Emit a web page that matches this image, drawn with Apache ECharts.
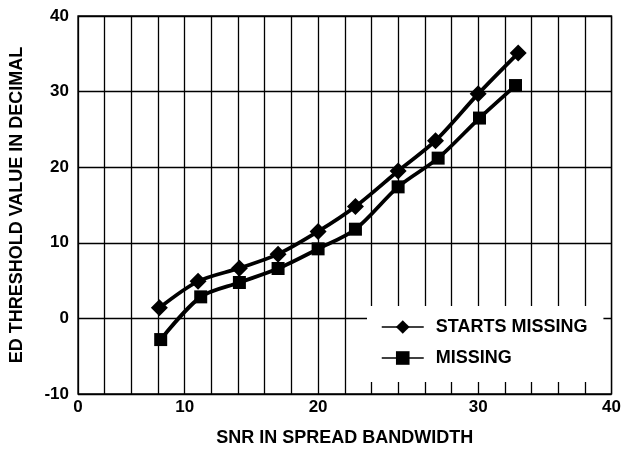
<!DOCTYPE html>
<html>
<head>
<meta charset="utf-8">
<script src="https://cdn.jsdelivr.net/npm/echarts@6/dist/echarts.min.js"></script>
<style>
html,body{margin:0;padding:0;background:#fff;}
#chart{width:624px;height:452px;}
</style>
</head>
<body>
<div id="chart"></div>
<script>
// x positions are in grid-cell units (the axis has 20 equal cells, labelled irregularly)
var xTickLabels = ['0','','','','10','','','','','20','','','','','','30','','','','','40'];
var yTicks = [-10, 0, 10, 20, 30, 40];
var startsMissingX = [3.05, 4.5, 6.05, 7.5, 9.0, 10.4, 12.0, 13.4, 15.0, 16.5];
var startsMissingY = [1.4, 4.9, 6.65, 8.5, 11.5, 14.8, 19.5, 23.5, 29.7, 35.1];
var missingX = [3.1, 4.6, 6.05, 7.5, 9.0, 10.4, 12.0, 13.5, 15.05, 16.4];
var missingY = [-2.8, 2.85, 4.75, 6.6, 9.2, 11.8, 17.4, 21.2, 26.5, 30.8];

function pairs(xs, ys){ return xs.map(function(x,i){ return [x, ys[i]]; }); }

var FONT = '"Liberation Sans", Arial, Helvetica, sans-serif';
var chart = echarts.init(document.getElementById('chart'));
chart.setOption({
  animation: false,
  backgroundColor: '#fff',
  textStyle: {fontFamily: FONT},
  grid: {left: 76, right: 10, top: 16, bottom: 57, show: true, borderColor: '#000', borderWidth: 1.3, containLabel: false},
  xAxis: {
    type: 'value', min: 0, max: xTickLabels.length - 1, interval: 1,
    name: 'SNR IN SPREAD BANDWIDTH', nameLocation: 'middle', nameGap: 35,
    nameTextStyle: {fontSize: 18, fontWeight: 'bold', color: '#000', fontFamily: FONT},
    axisLine: {show: false}, axisTick: {show: false},
    axisLabel: {fontSize: 17, fontWeight: 'bold', color: '#000', margin: 5, fontFamily: FONT,
      formatter: function(v){ return xTickLabels[Math.round(v)] || ''; }},
    splitLine: {show: true, lineStyle: {color: '#000', width: 1.3}}
  },
  yAxis: {
    type: 'value', min: yTicks[0], max: yTicks[yTicks.length-1], interval: yTicks[1]-yTicks[0],
    name: 'ED THRESHOLD VALUE IN DECIMAL', nameLocation: 'middle', nameGap: 52,
    nameTextStyle: {fontSize: 18, fontWeight: 'bold', color: '#000', fontFamily: FONT},
    axisLine: {show: false}, axisTick: {show: false},
    axisLabel: {fontSize: 17, fontWeight: 'bold', color: '#000', margin: 9, fontFamily: FONT},
    splitLine: {show: true, lineStyle: {color: '#000', width: 1.3}}
  },
  legend: {
    orient: 'vertical', left: 367, top: 306,
    padding: [12, 16, 15, 14],
    backgroundColor: '#fff',
    itemWidth: 42, itemHeight: 17, itemGap: 13,
    lineStyle: {width: 1.5},
    textStyle: {fontSize: 18, fontWeight: 'bold', color: '#000', fontFamily: FONT, padding: [0,0,0,7]},
    data: ['STARTS MISSING', 'MISSING']
  },
  series: [
    {name: 'STARTS MISSING', type: 'line', smooth: 0.3, data: pairs(startsMissingX, startsMissingY),
      symbol: 'diamond', symbolSize: 17, color: '#000',
      lineStyle: {color: '#000', width: 3.8}, itemStyle: {color: '#000'}},
    {name: 'MISSING', type: 'line', smooth: 0.3, data: pairs(missingX, missingY),
      symbol: 'rect', symbolSize: 13, color: '#000',
      lineStyle: {color: '#000', width: 3.8}, itemStyle: {color: '#000'}}
  ]
});
</script>
</body>
</html>
